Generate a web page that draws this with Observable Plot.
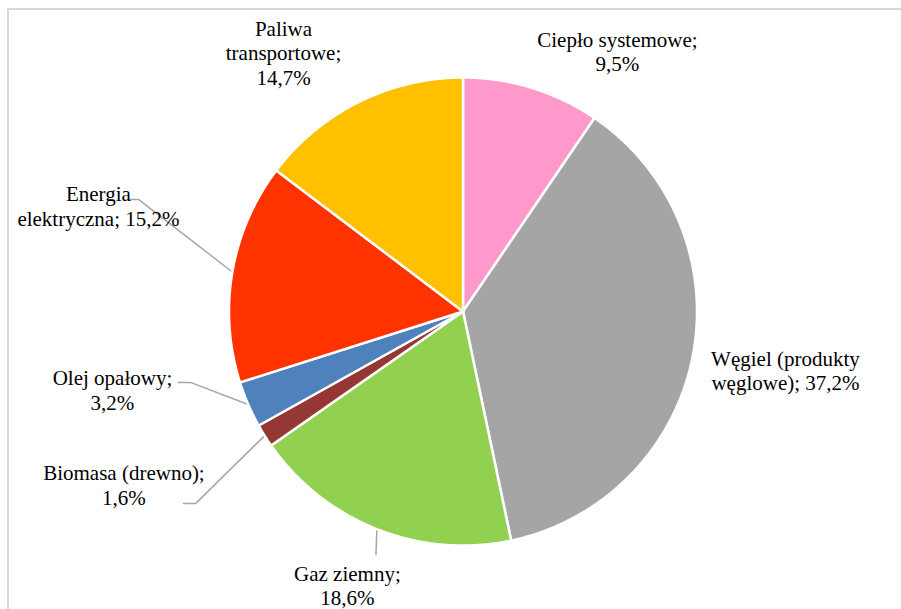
<!DOCTYPE html>
<html><head><meta charset="utf-8">
<script src="https://cdn.jsdelivr.net/npm/d3@7"></script>
<script src="https://cdn.jsdelivr.net/npm/@observablehq/plot@0.6"></script>
<style>
html,body{margin:0;padding:0;background:#fff;}
#wrap{position:relative;width:901px;height:609px;overflow:hidden;background:#fff;}
#frame{position:absolute;left:7px;top:8px;width:940px;height:640px;border-left:2px solid #d9d9d9;border-top:2px solid #d9d9d9;}
#chart{position:absolute;left:0;top:0;}
#chart svg text { font-family: "Liberation Serif", "Tinos", "Times New Roman", Times, "DejaVu Serif", serif !important; }
</style></head><body>
<div id="wrap"><div id="frame"></div><div id="chart"></div></div>
<script>
// ---- data ----
const categories = ["Ciepło systemowe", "Węgiel (produkty węglowe)", "Gaz ziemny", "Biomasa (drewno)", "Olej opałowy", "Energia elektryczna", "Paliwa transportowe"];
const values = [9.5, 37.2, 18.6, 1.6, 3.2, 15.2, 14.7];
const colors = ["#ff99cc", "#a5a5a5", "#92d050", "#953735", "#4f81bd", "#ff3300", "#ffc000"];
const labelNames = ["Ciepło systemowe", "Węgiel (produkty\nwęglowe)", "Gaz ziemny", "Biomasa (drewno)", "Olej opałowy", "Energia\nelektryczna", "Paliwa\ntransportowe"];
const valueOnNewLine = [true, false, true, true, true, false, true];

// ---- layout (unit = pie radius, y up) ----
const labelPos = [[0.660, 1.113], [1.378, -0.25], [-0.494, -1.169], [-1.449, -0.741], [-1.498, -0.335], [-1.558, 0.453], [-0.767, 1.108]];
const leaders = {
  "Energia elektryczna": [[-1.387, 0.479], [-1.429, 0.479]],
  "Olej opałowy": [[-1.165, -0.303], [-1.216, -0.303]],
  "Biomasa (drewno)": [[-1.143, -0.821], [-1.194, -0.821]],
  "Gaz ziemny": [[-0.372, -1.04]]
};

const total = d3.sum(values);
let acc = 0;
const slices = categories.map((c, i) => {
  const a0 = acc / total * 2 * Math.PI;
  acc += values[i];
  const a1 = acc / total * 2 * Math.PI;
  return {cat: c, value: values[i], a0, a1, mid: (a0 + a1) / 2, i};
});

const polys = [];
for (const s of slices) {
  polys.push({cat: s.cat, x: 0, y: 0});
  const n = Math.max(2, Math.ceil((s.a1 - s.a0) / (Math.PI / 360)));
  for (let k = 0; k <= n; k++) {
    const a = s.a0 + (s.a1 - s.a0) * k / n;
    polys.push({cat: s.cat, x: Math.sin(a), y: Math.cos(a)});
  }
  polys.push({cat: s.cat, x: 0, y: 0});
}

const fmt = v => v.toFixed(1).replace(".", ",") + "%";
const labelData = slices.map(s => ({
  x: labelPos[s.i][0], y: labelPos[s.i][1],
  text: labelNames[s.i] + ";" + (valueOnNewLine[s.i] ? "\n" : " ") + fmt(s.value)
}));

const leaderPts = [];
for (const s of slices) {
  const pts = leaders[s.cat];
  if (!pts) continue;
  leaderPts.push({cat: s.cat, x: Math.sin(s.mid), y: Math.cos(s.mid)});
  for (const p of pts) leaderPts.push({cat: s.cat, x: p[0], y: p[1]});
}

const R = 234, cx = 462.5, cy = 311;
const chart = Plot.plot({
  width: 901, height: 609,
  margin: 0,
  x: {domain: [-1, 1], range: [cx - R, cx + R], axis: null},
  y: {domain: [-1, 1], range: [cy + R, cy - R], axis: null},
  color: {domain: categories, range: colors},
  style: {background: "transparent"},
  marks: [
    Plot.line(leaderPts, {x: "x", y: "y", z: "cat", stroke: "#a6a6a6", strokeWidth: 1.5, curve: "linear"}),
    Plot.line(polys, {x: "x", y: "y", z: "cat", fill: "cat", stroke: "white", strokeWidth: 2.5, strokeLinejoin: "miter", curve: "linear"}),
    Plot.text(labelData, {x: "x", y: "y", text: "text", fontSize: 21, lineHeight: 1.17, lineAnchor: "middle", textAnchor: "middle", fill: "#000", fontFamily: "Liberation Serif"})
  ]
});
document.getElementById("chart").appendChild(chart);
</script>
</body></html>
